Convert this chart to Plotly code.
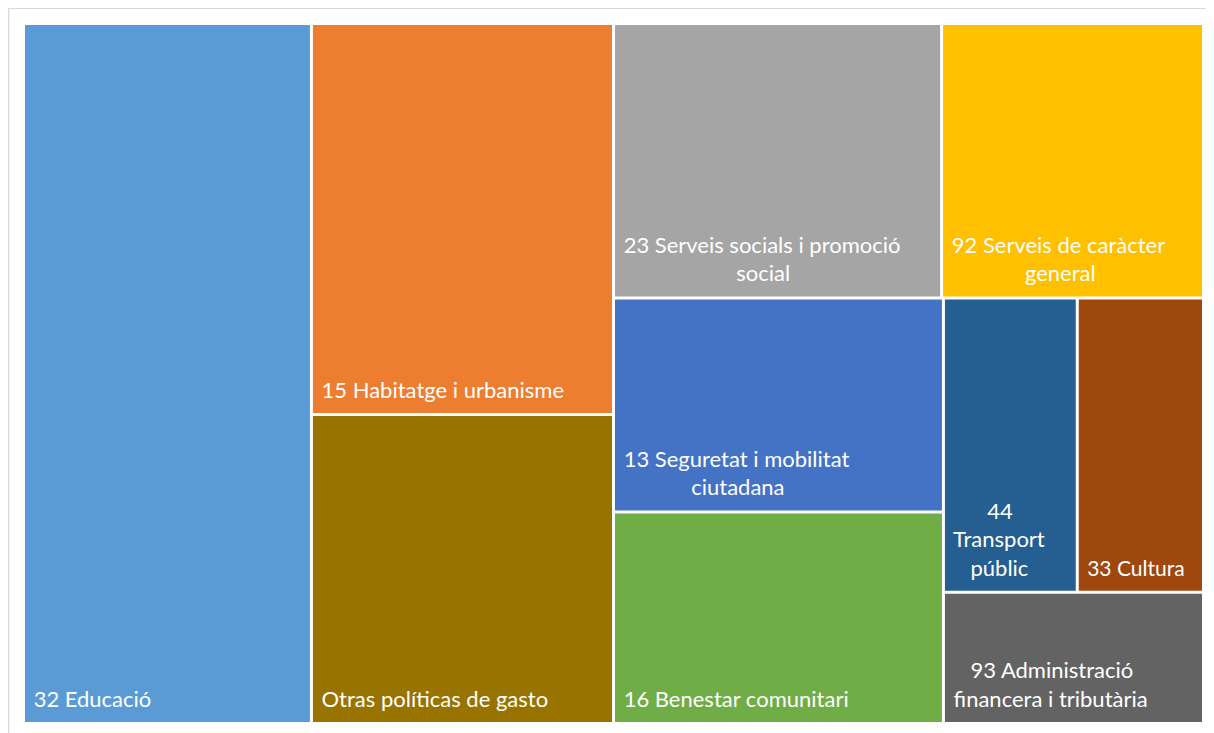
import plotly.graph_objects as go

# Hierarchy (group nodes only steer the layout, like the Excel treemap)
ids = ["root", "edu", "g2", "hab", "otras", "g3", "g3a", "soc", "g92",
       "g3b", "g3b1", "seg", "ben", "g3b2", "g3b2a", "tra", "cul", "adm"]
parents = ["", "root", "root", "g2", "g2", "root", "g3", "g3a", "g3a",
           "g3", "g3b", "g3b1", "g3b1", "g3b", "g3b2", "g3b2a", "g3b2a", "g3b2"]
labels = ["", "32 Educació", "", "15 Habitatge i urbanisme", "Otras políticas de gasto",
          "", "", "23 Serveis socials i promoció social", "92 Serveis de caràcter general",
          "", "", "13 Seguretat i mobilitat ciutadana", "16 Benestar comunitari",
          "", "", "44 Transport públic", "33 Cultura", "93 Administració financera i tributària"]
# values of leaves (groups = 0, branchvalues remainder)
values = [0, 244, 0, 143, 113, 0, 0, 109, 87, 0, 0, 85.5, 84.5, 0, 0, 47.7, 45, 41.3]
colors = ["white", "#5B9BD5", "white", "#ED7D31", "#997300", "white", "white", "#A5A5A5", "#FFC000",
          "white", "white", "#4472C4", "#70AD47", "white", "white", "#255E91", "#9E480E", "#636363"]

NB = "\u00a0"
END = "<span style='font-size:58px'>" + NB + "</span>"
display = {
    "edu": NB + "32 Educació",
    "hab": NB + "15 Habitatge i urbanisme",
    "otras": NB + "Otras políticas de gasto",
    "soc": NB + "23 Serveis socials i promoció<br>" + NB * 21 + "social",
    "g92": NB + "92 Serveis de caràcter<br>" + NB * 14 + "general",
    "seg": NB + "13 Seguretat i mobilitat<br>" + NB * 13 + "ciutadana",
    "ben": NB + "16 Benestar comunitari",
    "tra": NB * 7 + "44<br>" + NB + "Transport<br>" + NB * 4 + "públic",
    "cul": NB + "33 Cultura",
    "adm": NB * 4 + "93 Administració<br>" + NB + "financera i tributària",
}
texts = [(display[i] + END) if i in display else "" for i in ids]

fig = go.Figure(go.Treemap(
    ids=ids, parents=parents, labels=labels, values=values,
    branchvalues="remainder", sort=False,
    text=texts, texttemplate="%{text}", textposition="bottom left",
    textfont=dict(family="Lato", size=22, color="white"),
    marker=dict(colors=colors, line=dict(width=0), pad=dict(t=0, l=0, r=0, b=0),
                depthfade=False),
    tiling=dict(packing="slice-dice", pad=3),
    pathbar=dict(visible=False),
    hoverinfo="label",
))
fig.update_layout(
    width=1206, height=725,
    margin=dict(l=17, r=12, t=17, b=11),
    paper_bgcolor="white",
    shapes=[dict(type="rect", xref="paper", yref="paper",
                 x0=-0.0140, x1=1.05, y0=-0.05, y1=1.0240,
                 line=dict(color="#D9D9D9", width=1.5), fillcolor="rgba(0,0,0,0)")],
)
fig.write_html("out.html")
